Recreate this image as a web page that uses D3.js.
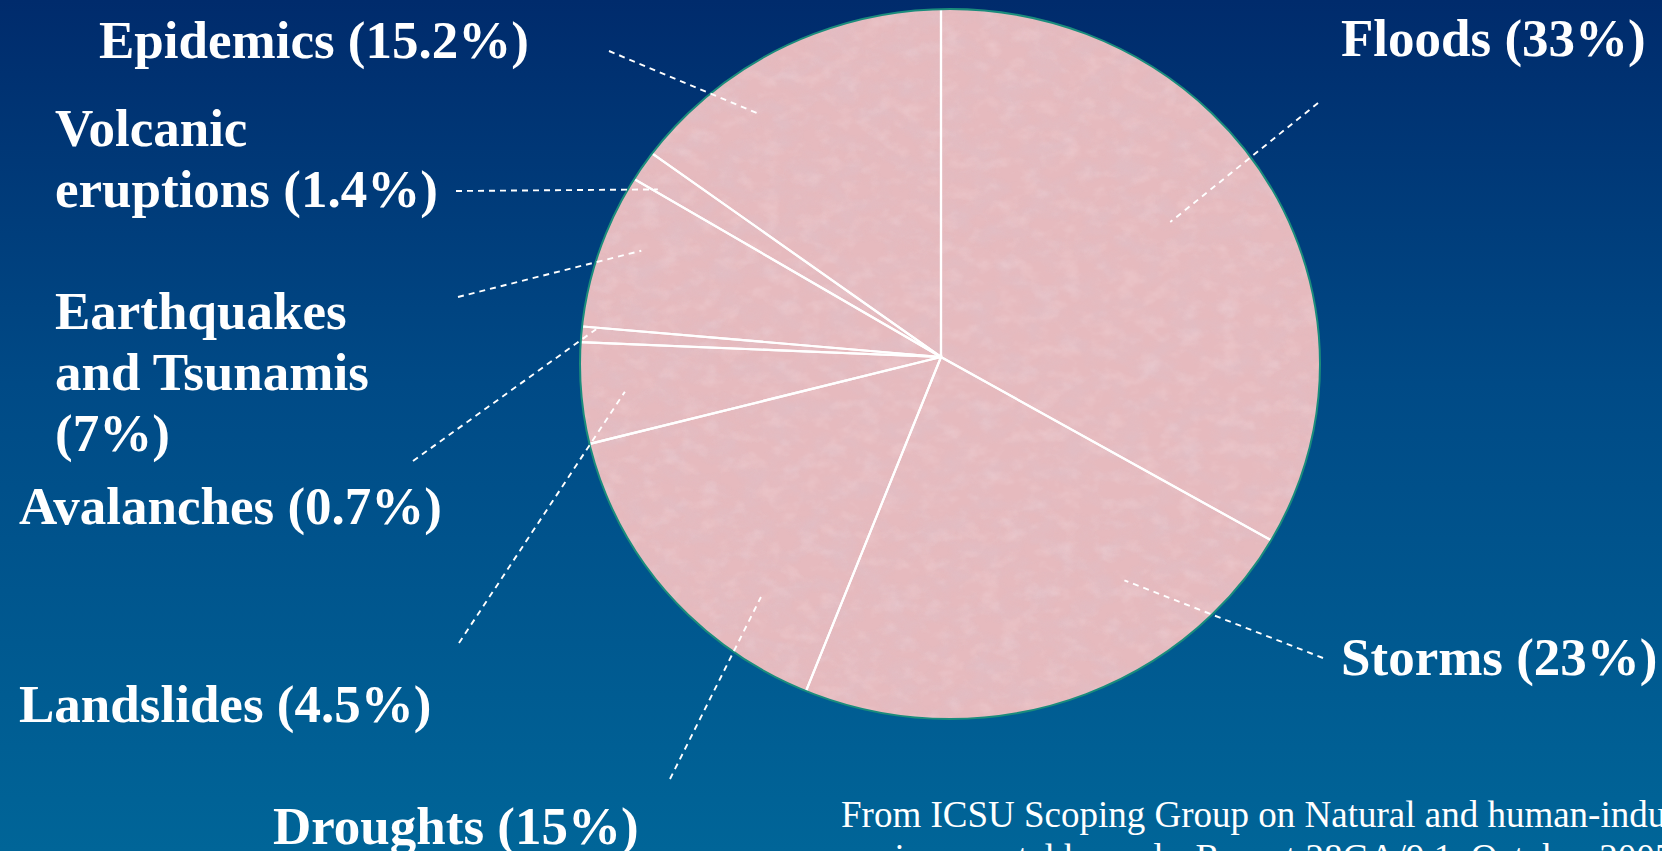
<!DOCTYPE html>
<html><head><meta charset="utf-8">
<script src="https://cdn.jsdelivr.net/npm/d3@7"></script>
<style>html,body{margin:0;padding:0;overflow:hidden;background:#003c7a}</style>
</head><body>
<svg id="chart" width="1662" height="851"></svg>
<script>
// ---- data ----
const categories = ["Floods","Storms","Droughts","Landslides","Avalanches","Earthquakes and Tsunamis","Volcanic eruptions","Epidemics"];
const values = [33, 23, 15, 4.5, 0.7, 7, 1.4, 15.2];
const labelLines = [
  ["Floods (33%)"],
  ["Storms (23%)"],
  ["Droughts (15%)"],
  ["Landslides (4.5%)"],
  ["Avalanches (0.7%)"],
  ["Earthquakes","and Tsunamis","(7%)"],
  ["Volcanic","eruptions (1.4%)"],
  ["Epidemics (15.2%)"]
];
const sourceLines = ["From ICSU Scoping Group on Natural and human-induced","environmental hazards, Report 28GA/9.1, October 2005"];

// ---- layout ----
const W = 1662, H = 851;
const vertex = [941, 357];
const ell = {cx: 950, cy: 364, rx: 370, ry: 355};
const labelLayout = [
  {x:1341, y:56,  lead:[1318,103], t:0.50, r:266},
  {x:1341, y:675, lead:[1323,658], t:0.26, r:289},
  {x:273,  y:844, lead:[670,779],  t:0.275, r:300},
  {x:19,   y:722, lead:[459,643],  t:0.47, r:318},
  {x:19,   y:524, lead:[413,461],  t:0.9,  r:346},
  {x:55,   y:329, lead:[458,297],  t:0.58, r:318},
  {x:55,   y:146, lead:[456,191],  t:0.1,  r:329},
  {x:99,   y:58,  lead:[609,51],   t:0.33, r:303}
];
const lineH = 61;

const svg = d3.select("#chart");
const defs = svg.append("defs");

const bg = defs.append("linearGradient").attr("id","bg").attr("x1",0).attr("y1",0).attr("x2",0).attr("y2",1);
bg.append("stop").attr("offset","0%").attr("stop-color","#002b6c");
bg.append("stop").attr("offset","45%").attr("stop-color","#004a86");
bg.append("stop").attr("offset","100%").attr("stop-color","#006598");

defs.append("clipPath").attr("id","pieclip")
  .append("ellipse").attr("cx",ell.cx).attr("cy",ell.cy).attr("rx",ell.rx).attr("ry",ell.ry);

const f1 = defs.append("filter").attr("id","texDark").attr("x",0).attr("y",0).attr("width","100%").attr("height","100%");
f1.append("feTurbulence").attr("type","fractalNoise").attr("baseFrequency","0.035 0.05").attr("numOctaves",4).attr("seed",7).attr("result","n");
f1.append("feColorMatrix").attr("in","n").attr("type","matrix")
  .attr("values","0 0 0 0 0.74  0 0 0 0 0.52  0 0 0 0 0.57  1.6 0 0 0 -0.6");
const f2 = defs.append("filter").attr("id","texLight").attr("x",0).attr("y",0).attr("width","100%").attr("height","100%");
f2.append("feTurbulence").attr("type","fractalNoise").attr("baseFrequency","0.05 0.07").attr("numOctaves",3).attr("seed",21).attr("result","n");
f2.append("feColorMatrix").attr("in","n").attr("type","matrix")
  .attr("values","0 0 0 0 0.96  0 0 0 0 0.80  0 0 0 0 0.82  0 1.2 0 0 -0.55");

svg.append("rect").attr("width",W).attr("height",H).attr("fill","url(#bg)");

// ---- pie ----
const pie = d3.pie().sort(null).value(d => d).startAngle(0).endAngle(2*Math.PI);
const arcs = pie(values);
const arc = d3.arc().innerRadius(0).outerRadius(900);

const pieG = svg.append("g").attr("clip-path","url(#pieclip)");
pieG.append("g").attr("transform",`translate(${vertex})`)
  .selectAll("path").data(arcs).join("path")
  .attr("d", arc).attr("fill","#e6babe");
pieG.append("rect").attr("x",ell.cx-ell.rx).attr("y",ell.cy-ell.ry).attr("width",2*ell.rx).attr("height",2*ell.ry)
  .attr("filter","url(#texDark)").attr("opacity",0.85);
pieG.append("rect").attr("x",ell.cx-ell.rx).attr("y",ell.cy-ell.ry).attr("width",2*ell.rx).attr("height",2*ell.ry)
  .attr("filter","url(#texLight)").attr("opacity",0.45);
pieG.append("g").attr("transform",`translate(${vertex})`)
  .selectAll("path").data(arcs).join("path")
  .attr("d", arc).attr("fill","none").attr("stroke","#ffffff").attr("stroke-width",2.2);

svg.append("ellipse").attr("cx",ell.cx).attr("cy",ell.cy).attr("rx",ell.rx).attr("ry",ell.ry)
  .attr("fill","none").attr("stroke","#1a8c7c").attr("stroke-width",2);

// ---- leaders ----
function polar(a, r){ return [vertex[0] + r*Math.sin(a), vertex[1] - r*Math.cos(a)]; }
svg.append("g").selectAll("line").data(arcs).join("line")
  .each(function(d,i){
    const L = labelLayout[i];
    const a = d.startAngle + L.t*(d.endAngle - d.startAngle);
    const p = polar(a, L.r);
    d3.select(this).attr("x1",L.lead[0]).attr("y1",L.lead[1]).attr("x2",p[0]).attr("y2",p[1]);
  })
  .attr("stroke","#ffffff").attr("stroke-width",1.9).attr("stroke-dasharray","6 5");

// ---- labels ----
const lab = svg.append("g").attr("font-family","'Liberation Serif','Times New Roman',serif")
  .attr("font-weight","bold").attr("font-size",53).attr("fill","#ffffff");
categories.forEach((c,i) => {
  const L = labelLayout[i];
  lab.append("text").attr("x",L.x).attr("y",L.y)
    .selectAll("tspan").data(labelLines[i]).join("tspan")
    .attr("x",L.x).attr("dy",(d,j)=> j===0 ? 0 : lineH).text(d=>d);
});

svg.append("text").attr("font-family","'Liberation Serif','Times New Roman',serif")
  .attr("font-size",37).attr("fill","#ffffff")
  .selectAll("tspan").data(sourceLines).join("tspan")
  .attr("x",841).attr("y",(d,j)=> 827 + j*43).text(d=>d);
</script>
</body></html>
